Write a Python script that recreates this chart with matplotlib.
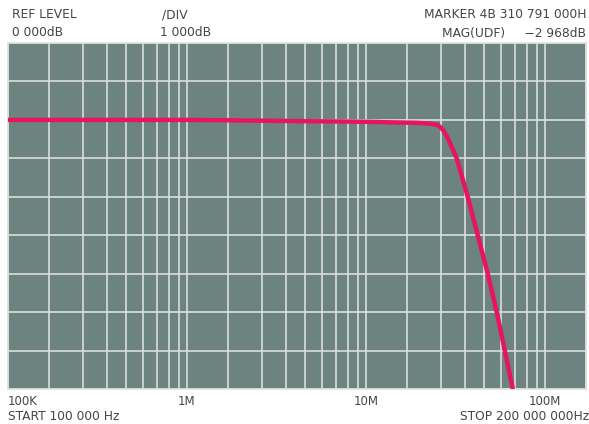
import numpy as np
import matplotlib
matplotlib.use("Agg")
import matplotlib.pyplot as plt

# trace (Hz, dB)
freq = [1e5, 1e6, 1e7, 2.0e7, 2.28e7, 2.52e7, 2.69e7, 2.87e7, 3.22e7,
        3.71e7, 4.22e7, 4.80e7, 5.39e7, 5.98e7, 6.63e7]
mag = [0.0, 0.0, -0.05, -0.08, -0.1, -0.13, -0.25, -0.47, -1.0,
       -2.0, -3.0, -4.0, -5.0, -6.0, -7.0]

decades = [1e5, 1e6, 1e7, 1e8]
decade_labels = ["100K", "1M", "10M", "100M"]
# graticule lines inside each decade (multiples of the decade start)
graticule = [1.69, 2.62, 3.59, 4.58, 5.68, 6.80, 7.96, 9.06]

screen = "#6c837f"
grid_c = "#d9dfdc"
trace_c = "#e8145e"
text_c = "#454545"

fig = plt.figure(figsize=(5.89, 4.24), dpi=100)
ax = fig.add_axes([8 / 589, 35 / 424, 578 / 589, 346 / 424])
ax.set_facecolor(screen)
ax.set_xscale("log")

minor = [d * m for d in decades for m in graticule]
ax.set_xticks(decades)
ax.set_xticks(minor, minor=True)
ax.set_xticklabels(decade_labels, fontsize=8.5, color=text_c)
ax.get_xticklabels()[0].set_horizontalalignment("left")
ax.xaxis.set_minor_formatter(matplotlib.ticker.NullFormatter())
ax.set_yticks(np.arange(-7, 3, 1))
ax.set_yticklabels([])
ax.tick_params(which="both", length=0, pad=4)
ax.grid(True, which="both", color=grid_c, lw=1.2)
for s in ax.spines.values():
    s.set_color(grid_c)
    s.set_linewidth(1.2)

ax.plot(freq, mag, color=trace_c, lw=3.2, solid_capstyle="butt",
        solid_joinstyle="round", zorder=5)
ax.set_xlim(1e5, 1.7e8)
ax.set_ylim(-7, 2)

kw = dict(fontsize=8.8, color=text_c)
fig.text(12 / 589, 1 - 15 / 424, "REF LEVEL", va="center", **kw)
fig.text(12 / 589, 1 - 32 / 424, "0 000dB", va="center", **kw)
fig.text(162 / 589, 1 - 15 / 424, "/DIV", va="center", **kw)
fig.text(160 / 589, 1 - 32 / 424, "1 000dB", va="center", **kw)
fig.text(586 / 589, 1 - 15 / 424, "MARKER 4B 310 791 000H", va="center", ha="right", **kw)
fig.text(586 / 589, 1 - 33 / 424, "MAG(UDF)     \u22122 968dB", va="center", ha="right", **kw)
fig.text(8 / 589, 1 - 416 / 424, "START 100 000 Hz", va="center", **kw)
fig.text(589 / 589, 1 - 416 / 424, "STOP 200 000 000Hz", va="center", ha="right", **kw)

fig.savefig("out.png", dpi=100)
